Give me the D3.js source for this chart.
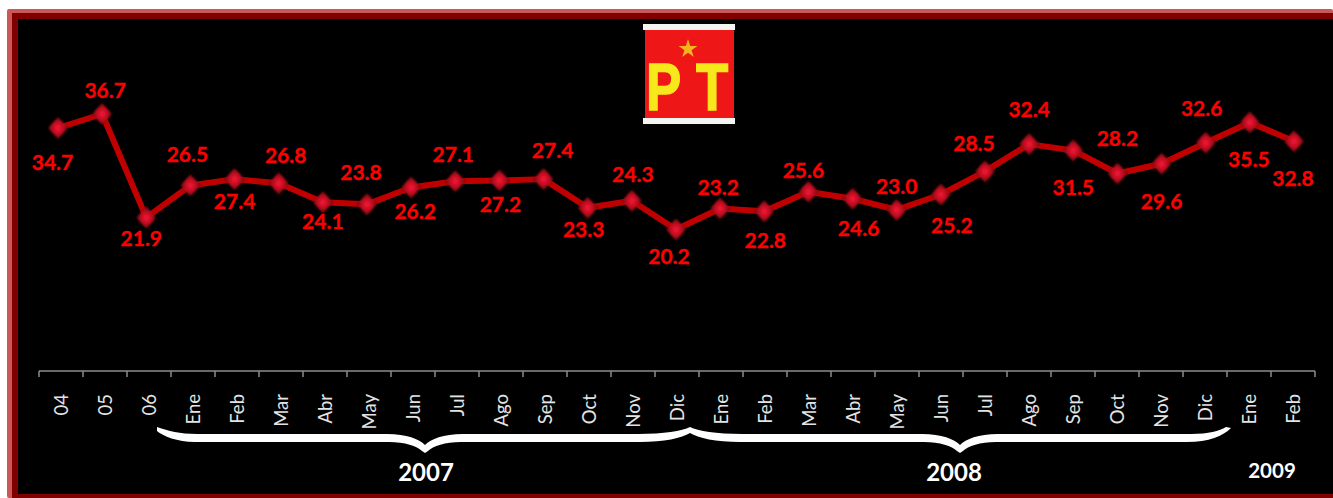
<!DOCTYPE html>
<html>
<head>
<meta charset="utf-8">
<script src="https://cdn.jsdelivr.net/npm/d3@7"></script>
<style>
  html, body { margin: 0; padding: 0; background: #fff; overflow: hidden; }
  svg { display: block; }
  text { font-family: Lato, "Open Sans", sans-serif; }
</style>
</head>
<body>
<div id="chart"></div>
<script>
// Data
const months = ["04", "05", "06",
  "Ene", "Feb", "Mar", "Abr", "May", "Jun", "Jul", "Ago", "Sep", "Oct", "Nov", "Dic",
  "Ene", "Feb", "Mar", "Abr", "May", "Jun", "Jul", "Ago", "Sep", "Oct", "Nov", "Dic",
  "Ene", "Feb"];
const values = [34.7, 36.7, 21.9,
  26.5, 27.4, 26.8, 24.1, 23.8, 26.2, 27.1, 27.2, 27.4, 23.3, 24.3, 20.2,
  23.2, 22.8, 25.6, 24.6, 23.0, 25.2, 28.5, 32.4, 31.5, 28.2, 29.6, 32.6,
  35.5, 32.8];
const years = ["2007", "2008", "2009"];

const width = 1333;
const height = 498;

const svg = d3.select("#chart").append("svg")
    .attr("width", width)
    .attr("height", height);

const defs = svg.append("defs");

const markerGrad = defs.append("radialGradient").attr("id", "marker-fill");
markerGrad.append("stop").attr("offset", "0%").attr("stop-color", "#f2183a");
markerGrad.append("stop").attr("offset", "50%").attr("stop-color", "#c80c20");
markerGrad.append("stop").attr("offset", "100%").attr("stop-color", "#4a0810");

defs.append("filter").attr("id", "soft")
    .append("feGaussianBlur").attr("stdDeviation", 1.1);
defs.append("filter").attr("id", "soft-logo")
    .append("feGaussianBlur").attr("stdDeviation", 0.6);

// Frame: light band, dark band, black panel
svg.append("rect").attr("x", 7).attr("y", 9).attr("width", width - 7).attr("height", height - 9).attr("rx", 2).attr("fill", "#cd5757");
svg.append("rect").attr("x", 12).attr("y", 13).attr("width", width - 12).attr("height", height - 13).attr("fill", "#800000");
svg.append("rect").attr("x", 18).attr("y", 19).attr("width", width - 18).attr("height", 475).attr("fill", "#000");

// Scales
const idx = d3.range(months.length);
const xBand = d3.scaleBand().domain(idx).range([39, 1315]);
const xPoint = d3.scalePoint().domain(idx).range([58, 1294]);
const y = d3.scaleLinear().domain([0, 36.7]).range([371, 114]);

// Axis, ticks sit on the band edges
const axis = svg.append("g");
axis.append("line")
    .attr("x1", xBand.range()[0]).attr("x2", xBand.range()[1])
    .attr("y1", y(0)).attr("y2", y(0))
    .attr("stroke", "#8c8c8c").attr("stroke-width", 1.5);
axis.selectAll(".tick")
    .data(idx.concat(months.length))
    .enter().append("line")
    .attr("class", "tick")
    .attr("x1", i => 39 + i * xBand.bandwidth())
    .attr("x2", i => 39 + i * xBand.bandwidth())
    .attr("y1", y(0))
    .attr("y2", y(0) + 6)
    .attr("stroke", "#8c8c8c").attr("stroke-width", 1.5);
axis.selectAll(".month")
    .data(idx)
    .enter().append("text")
    .attr("class", "month")
    .attr("text-anchor", "end")
    .attr("transform", i => `translate(${xBand(i) + xBand.bandwidth() / 2 + 7},394) rotate(-90)`)
    .attr("font-size", 18.5)
    .attr("fill", "#e4e4e4")
    .text(i => months[i]);

// Line and markers
svg.append("path")
    .datum(values)
    .attr("fill", "none")
    .attr("stroke", "#c00000")
    .attr("stroke-width", 6)
    .attr("stroke-linejoin", "round")
    .attr("d", d3.line().x((d, i) => xPoint(i)).y(d => y(d)));

svg.selectAll(".marker")
    .data(values)
    .enter().append("path")
    .attr("class", "marker")
    .attr("d", d3.symbol(d3.symbolDiamond2, 260))
    .attr("transform", (d, i) => `translate(${xPoint(i)},${y(d)}) scale(1,1.12)`)
    .attr("fill", "url(#marker-fill)")
    .attr("filter", "url(#soft)");

// Value labels, offset from their point as in the original
const labelOffsets = [[-5.5, 35], [3, -23], [-5, 21.5],
  [-3, -30.5], [0, 22.5], [7, -27.5], [0, 19.5], [-6, -31.5], [4, 24], [-2, -27], [1, 24.5], [9, -28.5], [-4, 22], [1, -26], [-7, 27],
  [-2, -21], [1, 29], [-5, -21], [6, 30], [0, -23.5], [11, 31], [-11, -27.5], [0, -34], [0, 37], [0, -35], [0, 38], [-4, -34],
  [-1, 37], [-1, 37]];
svg.selectAll(".value")
    .data(values)
    .enter().append("text")
    .attr("class", "value")
    .attr("x", (d, i) => xPoint(i) + labelOffsets[i][0])
    .attr("y", (d, i) => y(d) + labelOffsets[i][1])
    .attr("dy", "0.35em")
    .attr("text-anchor", "middle")
    .attr("font-size", 21)
    .attr("font-weight", 700)
    .attr("fill", "#ff0000")
    .attr("stroke", "#ff0000")
    .attr("stroke-width", 0.3)
    .text(d => d.toFixed(1));

// Curly brace under the months of 2007 and 2008
const tipL = 157, dipA = 425, apex = 690, dipB = 960, tipR = 1231;
const brace = [
  `M${tipL},427`,
  `C${tipL + 12},431 ${tipL + 22},434 ${tipL + 40},434`,
  `L${dipA - 38},434`,
  `C${dipA - 18},434 ${dipA - 6},439 ${dipA},445`,
  `C${dipA + 6},439 ${dipA + 18},434 ${dipA + 38},434`,
  `L${apex - 52},434`,
  `C${apex - 26},434 ${apex - 8},431 ${apex},427`,
  `C${apex + 8},431 ${apex + 26},434 ${apex + 52},434`,
  `L${dipB - 38},434`,
  `C${dipB - 18},434 ${dipB - 6},439 ${dipB},445`,
  `C${dipB + 6},439 ${dipB + 18},434 ${dipB + 38},434`,
  `L${tipR - 40},434`,
  `C${tipR - 22},434 ${tipR - 12},431 ${tipR - 5},427`,
  `L${tipR},428`,
  `C${tipR - 8},436 ${tipR - 22},442 ${tipR - 44},442`,
  `L${dipB + 36},442`,
  `C${dipB + 20},442 ${dipB + 8},446 ${dipB + 3},451`,
  `L${dipB},453`,
  `L${dipB - 3},451`,
  `C${dipB - 8},446 ${dipB - 20},442 ${dipB - 36},442`,
  `L${apex + 50},442`,
  `C${apex + 26},442 ${apex + 8},438 ${apex},433`,
  `C${apex - 8},438 ${apex - 26},442 ${apex - 50},442`,
  `L${dipA + 36},442`,
  `C${dipA + 20},442 ${dipA + 8},446 ${dipA + 3},451`,
  `L${dipA},453`,
  `L${dipA - 3},451`,
  `C${dipA - 8},446 ${dipA - 20},442 ${dipA - 36},442`,
  `L${tipL + 38},442`,
  `C${tipL + 20},442 ${tipL + 6},436 ${tipL},431`,
  "Z"
].join(" ");
svg.append("path").attr("d", brace).attr("fill", "#fff");

// Year captions
svg.selectAll(".year")
    .data(years)
    .enter().append("text")
    .attr("class", "year")
    .attr("x", (d, i) => [426, 954, 1272][i])
    .attr("y", (d, i) => [481, 481, 478][i])
    .attr("text-anchor", "middle")
    .attr("font-size", (d, i) => i === 2 ? 20.5 : 24)
    .attr("font-weight", 700)
    .attr("fill", "#fff")
    .text(d => d);

// PT logo
const logo = svg.append("g").attr("filter", "url(#soft-logo)");
logo.append("rect").attr("x", 643).attr("y", 24).attr("width", 92).attr("height", 6).attr("fill", "#f4f4f0");
logo.append("rect").attr("x", 643).attr("y", 118).attr("width", 92).attr("height", 6).attr("fill", "#f4f4f0");
logo.append("rect").attr("x", 645).attr("y", 30).attr("width", 89).attr("height", 88).attr("fill", "#ee1212");
logo.append("path")
    .attr("d", d3.symbol(d3.symbolStar, 110))
    .attr("transform", "translate(688,49)")
    .attr("fill", "#f4b41e");
logo.selectAll(".letter")
    .data(["P", "T"])
    .enter().append("text")
    .attr("class", "letter")
    .attr("transform", (d, i) => `translate(${[646, 696][i]},110) scale(0.8,1)`)
    .attr("font-size", 66)
    .attr("font-weight", 700)
    .style("font-family", "'Liberation Sans', sans-serif")
    .attr("fill", "#f6e81a")
    .attr("stroke", "#f6e81a")
    .attr("stroke-width", 1.5)
    .text(d => d);
</script>
</body>
</html>
